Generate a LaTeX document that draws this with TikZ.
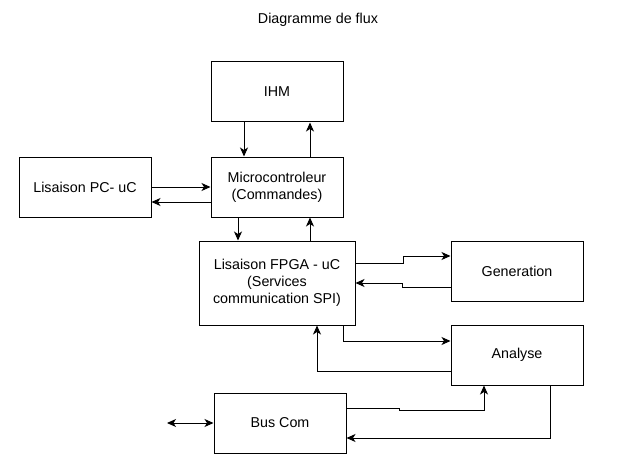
\documentclass[tikz,border=0pt]{standalone}
\usepackage{fontspec}
\setmainfont{Liberation Sans}
\usetikzlibrary{arrows.meta}

\begin{document}
\begin{tikzpicture}[x=1pt, y=-1pt,
  block/.style={draw, line width=1pt, minimum width=132pt, minimum height=60pt, align=center, inner sep=2pt, font=\fontsize{14.3pt}{17pt}\selectfont},
  tip/.tip={Stealth[length=9pt, width=8pt, inset=2.5pt]},
  flow/.style={line width=1pt, -tip}]
\useasboundingbox (0,0) rectangle (629,476);

% Title
\node[font=\fontsize{14.3pt}{17pt}\selectfont] (title) at (318,20) {Diagramme de flux};

% Boxes
\node[block] (ihm) at (277,92) {IHM};
\node[block] (micro) at (277,187) {Microcontroleur\\(Commandes)};
\node[block] (pc) at (85,187) {Lisaison PC- uC};
\node[block, minimum width=156pt, minimum height=84pt] (fpga) at (277,283) {Lisaison FPGA - uC\\(Services\\communication SPI)};
\node[block] (gen) at (517,271) {Generation};
\node[block] (ana) at (517,355) {Analyse};
\node[block] (bus) at (280,423) {Bus Com};

% External link
\coordinate (ext) at (167,423);

% Arrows
\draw[flow] ([xshift=-33pt]ihm.south) -- ([xshift=-33pt]micro.north);
\draw[flow] ([xshift=33pt]micro.north) -- ([xshift=33pt]ihm.south);
\draw[flow] (pc.east) -- (micro.west);
\draw[flow] ([yshift=-15pt]micro.west) -- ([yshift=-15pt]pc.east);
\draw[flow] ([xshift=-39pt]micro.south) -- ([xshift=-39pt]micro.south |- fpga.north);
\draw[flow] ([xshift=33pt]fpga.north) -- ([xshift=33pt]fpga.north |- micro.south);
\draw[flow] ([yshift=20pt]fpga.east) -- ++(48,0) |- ([yshift=15pt]gen.west);
\draw[flow] ([yshift=-16pt]gen.west) -- ++(-48,0) |- (fpga.east);
\draw[flow] ([xshift=66pt]fpga.south) |- ([yshift=14pt]ana.west);
\draw[flow] ([yshift=-16pt]ana.west) -| ([xshift=40pt]fpga.south);
\draw[flow] ([yshift=15pt]bus.east) -- ++(53,0) -- ++(0,2) -| ([xshift=-33pt]ana.south);
\draw[flow] ([xshift=33pt]ana.south) |- ([yshift=-15pt]bus.east);
\draw[flow, tip-tip] (ext) -- (bus.west);
\end{tikzpicture}
\end{document}
